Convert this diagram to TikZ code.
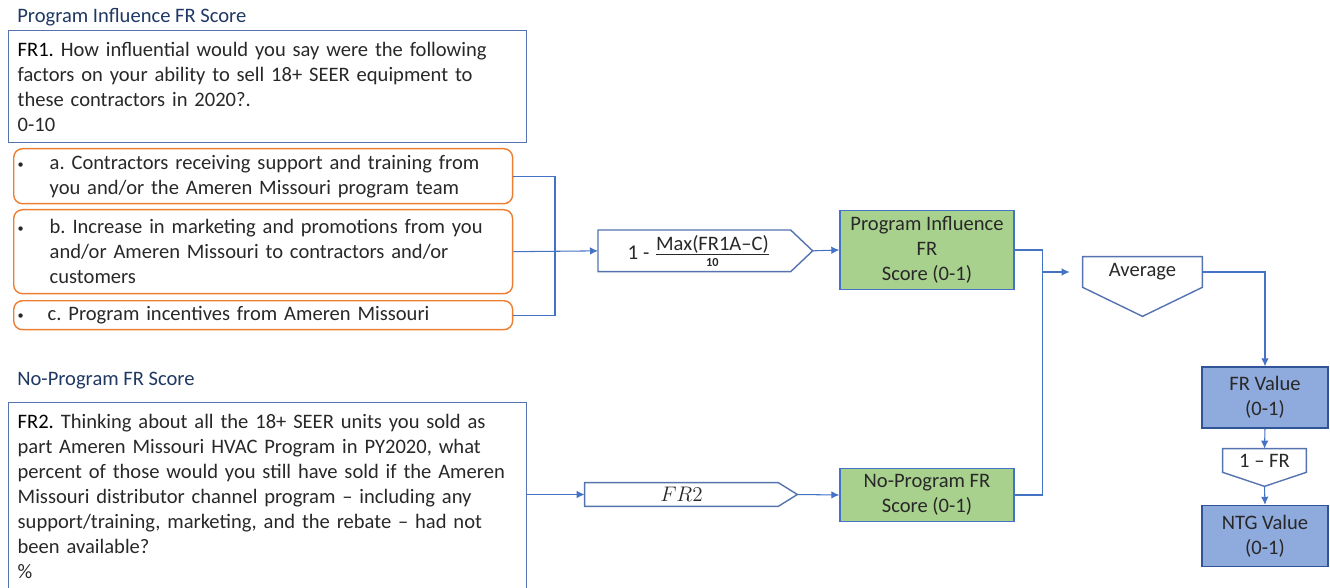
\documentclass[tikz,border=0pt]{standalone}
\usepackage{fontspec}
\setmainfont{Carlito}
\usetikzlibrary{calc,arrows.meta}
\definecolor{titleblue}{RGB}{31,56,100}
\definecolor{boxline}{RGB}{84,115,175}
\definecolor{linkblue}{RGB}{68,114,196}
\definecolor{barorange}{RGB}{237,125,49}
\definecolor{scoregreen}{RGB}{169,209,142}
\definecolor{valueblue}{RGB}{143,170,220}
\definecolor{valueline}{RGB}{47,85,151}
\definecolor{bodytext}{RGB}{40,40,40}
\newcommand{\bul}[1]{\makebox[#1][l]{\raisebox{0.1ex}{\scriptsize •}}}
\frenchspacing
\begin{document}
\begin{tikzpicture}[x=0.02cm,y=-0.02cm,>={Latex[length=1.6mm,width=1.5mm]}]
        \tikzstyle{every node}=[font=\fontsize{11.7}{14.2}\selectfont,text=bodytext];
        \tikzstyle{heading}=[anchor=west,inner sep=0pt,text=titleblue];
        \tikzstyle{question}=[draw=boxline,line width=0.8pt,anchor=north west,align=left,inner xsep=0.18cm,text width=10cm];
        \tikzstyle{factor}=[draw=barorange,line width=0.8pt,rounded corners=5pt,anchor=north west,align=left,inner xsep=0.08cm,inner ysep=0.05cm,text width=9.82cm];
        \tikzstyle{calcbox}=[inner sep=0pt];
        \tikzstyle{score}=[draw=linkblue,fill=scoregreen,line width=0.8pt,align=center,minimum width=3.48cm];
        \tikzstyle{value}=[draw=valueline,fill=valueblue,line width=0.8pt,align=center,minimum width=2.52cm,minimum height=1.22cm];
        \tikzstyle{link}=[draw=linkblue,line width=0.6pt];
        \tikzstyle{outline}=[draw=boxline,line width=0.8pt,line join=miter];

        \useasboundingbox (0,0) rectangle (1330,588);

        % program influence side
        \node(pihead)[heading] at (17,17) {Program Influence FR Score};
        \node(qone)[question,minimum height=2.24cm] at (8,30)
          {{\color{black}FR1.} How influential would you say were the following\\
           factors on your ability to sell 18+ SEER equipment to\\
           these contractors in 2020?.\\
           0-10};
        \node(fa)[factor,minimum height=1.1cm] at (13,148)
          {\bul{0.64cm}a. Contractors receiving support and training from\\
           \hspace*{0.64cm}you and/or the Ameren Missouri program team};
        \node(fb)[factor,minimum height=1.68cm] at (13,209)
          {\bul{0.64cm}b. Increase in marketing and promotions from you\\
           \hspace*{0.64cm}and/or Ameren Missouri to contractors and/or\\
           \hspace*{0.64cm}customers};
        \node(fc)[factor,minimum height=0.58cm] at (13,300)
          {\bul{0.6cm}c. Program incentives from Ameren Missouri};

        \node(form)[calcbox,anchor=north west,minimum width=3.84cm,minimum height=0.82cm] at (598,230)
          {\hspace*{0.2cm}{\large 1} - \(\frac{\mbox{Max(FR1A--C)}}{\mbox{\scriptsize\bfseries 10}}\)};
        \coordinate(formtip) at ($(form.east)+(22,0)$);
        \draw[outline] (form.north west) -- (form.north east) -- (formtip) -- (form.south east) -- (form.south west) -- cycle;

        \node(pig)[score,minimum height=1.52cm] at (927,250) {Program Influence\\FR\\Score (0-1)};

        % no-program side
        \node(nphead)[heading] at (17,381) {No-Program FR Score};
        \node(qtwo)[question,minimum height=3.76cm] at (8,402)
          {{\color{black}FR2.} Thinking about all the 18+ SEER units you sold as\\
           part Ameren Missouri HVAC Program in PY2020, what\\
           percent of those would you still have sold if the Ameren\\
           Missouri distributor channel program -- including any\\
           support/training, marketing, and the rebate -- had not\\
           been available?\\
           \%};

        \node(frtwo)[calcbox,minimum width=3.86cm,minimum height=0.46cm] at (681.5,494.5) {$FR2$};
        \coordinate(frtwotip) at ($(frtwo.east)+(19,0)$);
        \draw[outline] (frtwo.north west) -- (frtwo.north east) -- (frtwotip) -- (frtwo.south east) -- (frtwo.south west) -- cycle;

        \node(npg)[score,minimum height=1.0cm] at (927,495) {No-Program FR\\Score (0-1)};

        % combining
        \node(avg)[calcbox,minimum width=2.38cm,minimum height=0.6cm] at (1142.5,272) {Average};
        \coordinate(avgtip) at ($(avg.south)+(0,29)$);
        \draw[outline] (avg.south west) -- (avg.north west) -- (avg.north east) -- (avg.south east) -- (avgtip) -- cycle;

        \node(frv)[value] at (1265,397.5) {FR Value\\(0-1)};
        \node(onefr)[calcbox,minimum width=1.66cm,minimum height=0.46cm] at (1264.5,460.5) {1 -- FR};
        \coordinate(onefrtip) at ($(onefr.south)+(0,14)$);
        \draw[outline] (onefr.south west) -- (onefr.north west) -- (onefr.north east) -- (onefr.south east) -- (onefrtip) -- cycle;
        \node(ntg)[value] at (1265,536) {NTG Value\\(0-1)};

        % connectors
        \coordinate(join) at (555,0);
        \path[link] (fa.east) -| (join |- fb.east) |- (fc.east);
        \path[link,->] (fb.east) -- (form.west);
        \path[link,->] (formtip) -- (pig.west);
        \path[link,->] (frtwo.west -| qtwo.east) -- (frtwo.west);
        \path[link,->] (frtwotip) -- (npg.west);
        \path[link] (pig.east) -- ++(28,0) coordinate(mid) |- (npg.east);
        \path[link,->,shorten >=0.26cm] (mid |- avg.west) -- (avg.west);
        \path[link,->] (avg.east) -| (frv.north);
        \path[link,->] (frv.south) -- (onefr.north);
        \path[link,->] (onefrtip) -- (ntg.north);
      \end{tikzpicture}
\end{document}
